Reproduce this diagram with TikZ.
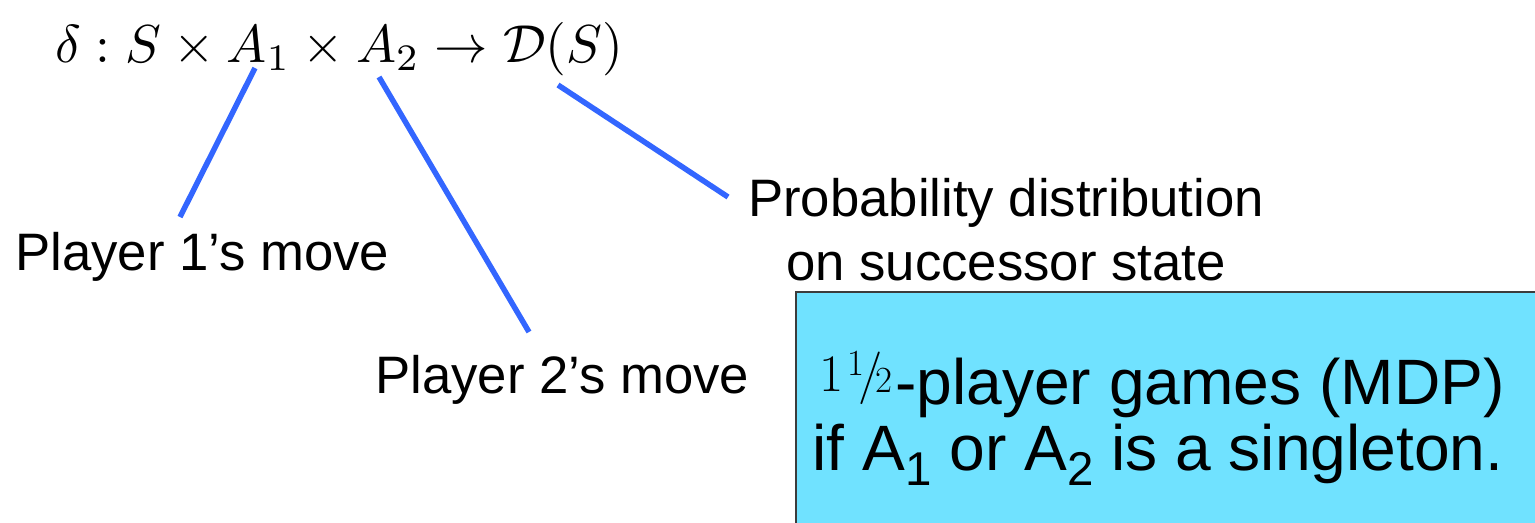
\documentclass[tikz,border=0pt]{standalone}
\usepackage{graphicx}
\usepackage[no-math]{fontspec}
\newfontfamily\labfont{Liberation Sans}
\definecolor{lineblue}{RGB}{51,102,255}
\definecolor{boxcyan}{RGB}{112,226,255}
\definecolor{boxborder}{RGB}{60,60,60}
\tikzset{
  conn/.style={draw=lineblue, line width=0.11cm},
  lab/.style={font=\labfont\fontsize{30}{36}\selectfont, inner sep=0pt, anchor=base west},
  boxtxt/.style={font=\labfont\fontsize{36.5}{44}\selectfont, inner sep=0pt, anchor=base},
}
\newcommand{\sbs}[1]{\raisebox{-0.3cm}{\fontsize{27}{30}\selectfont #1}}
\newcommand{\onehalfsym}{\raisebox{0.26cm}{\rmfamily\fontsize{30}{30}\selectfont 1\kern0.08em\raisebox{0.3em}{\fontsize{21}{21}\selectfont 1}\kern-0.12em/\kern-0.14em\raisebox{-0.03em}{\fontsize{21}{21}\selectfont 2}}}
\begin{document}
\begin{tikzpicture}[x=0.02cm, y=-0.02cm]
\useasboundingbox (0,0) rectangle (1535,522);
% formula
\node[anchor=base west, inner sep=0pt] (f) at (55,62)
  {\scalebox{3.04}{$\delta : S \times A_1 \times A_2 \rightarrow \mathcal{D}(S)$}};
% box
\node[draw=boxborder, line width=0.03cm, fill=boxcyan, anchor=north west, minimum width=15.2cm, minimum height=5cm, inner sep=0pt] (box) at (795,291) {};
% labels
\node[lab] (p1) at (15,270) {Player 1’s move};
\node[lab] (p2) at (375,393) {Player 2’s move};
\node[font=\labfont\fontsize{30}{36}\selectfont, inner sep=0pt, anchor=base, align=center] (pd) at (1006,280) {Probability distribution\\on successor state};
\node[boxtxt] (b1) at (1162,404) {\onehalfsym\kern0.05em-player games (MDP)};
\node[boxtxt] (b2) at (1158,470) {if A\sbs{1} or A\sbs{2} is a singleton.};
% connector endpoints
\coordinate (a1) at (255,68);
\coordinate (e1) at (180,217);
\coordinate (a2) at (379,77);
\coordinate (e2) at (529,332);
\coordinate (a3) at (558,85);
\coordinate (e3) at (728,197);
\draw[conn] (a1) -- (e1);
\draw[conn] (a2) -- (e2);
\draw[conn] (a3) -- (e3);
\end{tikzpicture}
\end{document}
